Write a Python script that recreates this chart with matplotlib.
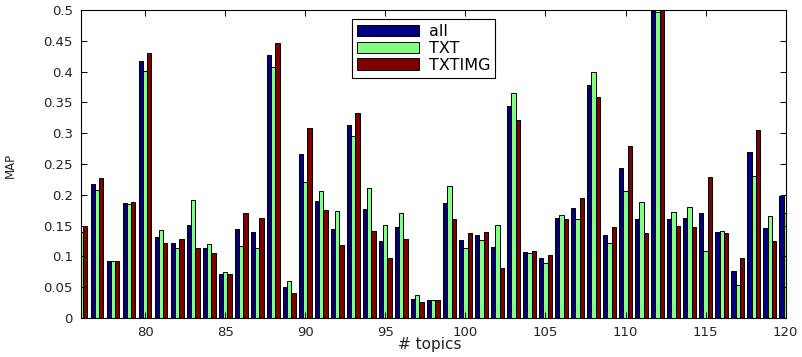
import matplotlib
matplotlib.use("Agg")
import matplotlib.pyplot as plt
import numpy as np

plt.rcParams['font.family'] = ['DejaVu Sans']

topics = list(range(76, 121))
series_names = ["all", "TXT", "TXTIMG"]
all_vals = [0.145, 0.217, 0.092, 0.186, 0.417, 0.132, 0.122, 0.151, 0.113, 0.072,
            0.144, 0.140, 0.427, 0.050, 0.266, 0.190, 0.144, 0.314, 0.177, 0.125,
            0.148, 0.031, 0.030, 0.187, 0.127, 0.134, 0.115, 0.344, 0.107, 0.098,
            0.163, 0.178, 0.379, 0.135, 0.244, 0.161, 0.498, 0.160, 0.163, 0.171,
            0.140, 0.076, 0.269, 0.146, 0.198]
txt_vals = [0.140, 0.207, 0.092, 0.185, 0.401, 0.143, 0.113, 0.192, 0.120, 0.074,
            0.117, 0.114, 0.408, 0.060, 0.220, 0.206, 0.173, 0.295, 0.211, 0.151,
            0.171, 0.037, 0.029, 0.214, 0.113, 0.126, 0.151, 0.365, 0.105, 0.090,
            0.167, 0.160, 0.399, 0.122, 0.206, 0.188, 0.496, 0.172, 0.180, 0.109,
            0.141, 0.053, 0.230, 0.166, 0.171]
txtimg_vals = [0.150, 0.227, 0.092, 0.188, 0.431, 0.122, 0.129, 0.113, 0.106, 0.071,
               0.171, 0.163, 0.447, 0.041, 0.309, 0.175, 0.118, 0.332, 0.141, 0.098,
               0.128, 0.026, 0.030, 0.161, 0.138, 0.140, 0.081, 0.322, 0.109, 0.103,
               0.160, 0.194, 0.359, 0.147, 0.279, 0.138, 0.510, 0.150, 0.147, 0.229,
               0.138, 0.098, 0.305, 0.125, 0.150]
colors = ["#000080", "#80FF80", "#800000"]
ytick_labels = ['0', '0.05', '0.1', '0.15', '0.2', '0.25', '0.3', '0.35', '0.4', '0.45', '0.5']

fig = plt.figure(figsize=(8.03, 3.57), dpi=100)
ax = fig.add_axes([81/803, 1-318/357, 704.7/803, 308/357])

x = np.array(topics, dtype=float)
w = 0.8 / 3
for i, (vals, c, name) in enumerate(zip([all_vals, txt_vals, txtimg_vals], colors, series_names)):
    ax.bar(x + (i - 1) * w, vals, width=w, color=c, edgecolor='black',
           linewidth=0.7, label=name)

ax.set_xlim(76, 120)
ax.set_ylim(0, 0.5)
ax.set_xticks(range(80, 121, 5))
ax.set_yticks(np.arange(0, 0.501, 0.05))
ax.set_yticklabels(ytick_labels)
ax.tick_params(direction='in', top=True, right=True, labelsize=9.5, length=4, width=0.7,
               labelcolor='#222222')
ax.tick_params(axis='y', pad=6)
ax.tick_params(axis='x', pad=6)
for s in ax.spines.values():
    s.set_linewidth(0.8)
ax.set_xlabel('# topics', fontsize=11, color='#222222')
ax.xaxis.set_label_coords((430 - 81) / 704.7, -(345 - 318) / 308, transform=ax.transAxes)
ax.xaxis.label.set_va('center')
ax.set_ylabel('MAP', fontsize=8.5, color='#222222')
ax.yaxis.set_label_coords(-(81 - 10) / 704.7, (318 - 165) / 308, transform=ax.transAxes)
ax.yaxis.label.set_va('center')

leg = ax.legend(loc='upper left', bbox_to_anchor=(0.385, 0.97), fancybox=False,
                edgecolor='black', framealpha=1, fontsize=11.5, handlelength=3.9,
                handleheight=0.75, borderpad=0.3, labelspacing=0.12, handletextpad=0.6,
                borderaxespad=0)
leg.get_frame().set_linewidth(0.8)

fig.savefig('out.png', dpi=100)
